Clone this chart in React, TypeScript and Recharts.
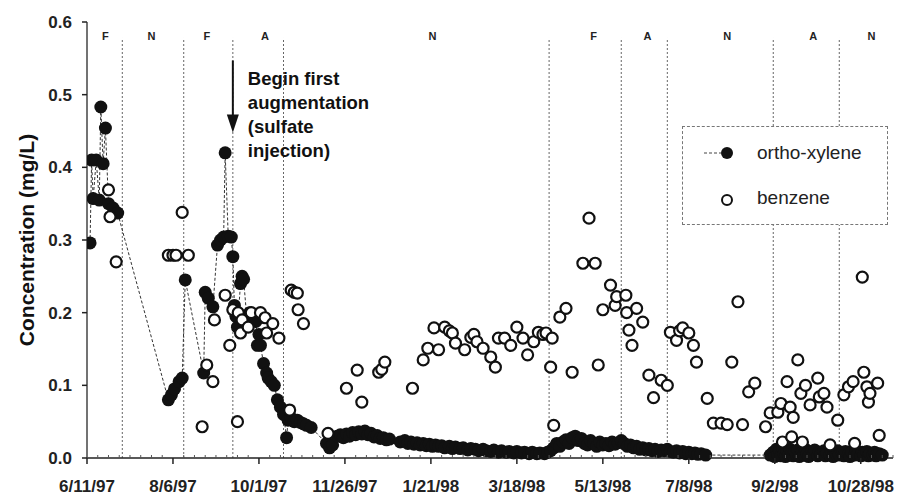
import React from 'react';
import { ScatterChart, Scatter, XAxis, YAxis, ReferenceLine, ReferenceDot, Legend, Label } from 'recharts';

const FONT = '"Liberation Sans", Arial, Helvetica, sans-serif';

// days counted from 6/11/97
const tickDays = [0, 56, 112, 168, 224, 280, 336, 392, 448, 504];
const tickLabels = ['6/11/97', '8/6/97', '10/1/97', '11/26/97', '1/21/98', '3/18/98', '5/13/98', '7/8/98', '9/2/98', '10/28/98'];
const weekTicks = Array.from({ length: 76 }, (_, i) => i * 7);
const yTicks = [0, 0.1, 0.2, 0.3, 0.4, 0.5, 0.6];

const phaseBounds = [23, 63, 95, 128, 301, 348, 378, 447, 490];
const phaseNames = ['F', 'N', 'F', 'A', 'N', 'F', 'A', 'N', 'A', 'N'];
const phaseMidDays = [12, 42, 78, 116, 225, 330, 365, 417, 473, 511];

const annotationLines = ['Begin first', 'augmentation', '(sulfate', 'injection)'];
const augmentationDay = 95;

const xyleneDays = [
  2, 3, 4, 6, 8, 9, 10.5, 12, 14, 17, 20,
  53, 55, 57, 60, 62, 64,
  76, 77, 79, 82, 85, 87, 89, 90, 92, 94, 95, 96, 97, 98, 100, 101, 102, 104, 106, 108, 110, 111, 112, 113, 115, 117, 118, 120, 122, 124, 126,
  128, 130, 131, 133, 135, 137, 139, 141, 143, 146,
  156, 158, 160, 163, 165, 167, 169, 171, 173, 175, 177, 179, 181, 183, 185, 187, 189, 191, 193, 195, 197,
  204, 207, 209, 211, 213, 215, 217, 219, 221, 223, 225, 227, 229, 231, 233, 236, 238, 240, 243, 245, 248, 250, 253, 255, 258, 260, 263, 265, 268, 270, 273, 275, 278, 280, 283, 285, 288, 290, 293, 295, 298,
  300, 302, 304, 306, 308, 310, 312, 314, 316, 318, 320, 322, 324, 326, 328, 330, 332, 334, 336, 338, 340, 342, 344, 346, 348, 350, 352, 354, 356, 358, 360, 362, 364, 366, 368, 370, 372, 374, 376, 378, 380, 382, 384, 386, 388, 390, 392, 394, 396, 398, 400, 403,
  445, 447, 448, 449, 450, 451, 452, 453, 454, 455, 456, 457, 458, 459, 460, 461, 462, 463, 464, 466, 467, 468, 469, 470, 472, 473, 474, 476, 477, 478, 480, 481, 482, 484, 485, 486, 488, 489, 490, 492, 493, 494, 496, 497, 498, 500, 501, 502, 504, 505, 506, 508, 509, 510, 512, 513, 514, 516, 518,
];
const xyleneValues = [
  0.296, 0.41, 0.357, 0.41, 0.355, 0.483, 0.405, 0.454, 0.35, 0.344, 0.337,
  0.08, 0.087, 0.095, 0.105, 0.11, 0.245,
  0.117, 0.228, 0.22, 0.208, 0.293, 0.3, 0.304, 0.42, 0.305, 0.304, 0.277, 0.21, 0.195, 0.18, 0.24, 0.25, 0.246, 0.195, 0.2, 0.19, 0.188, 0.155, 0.17, 0.155, 0.13, 0.117, 0.11, 0.105, 0.1, 0.08, 0.07,
  0.06, 0.028, 0.052, 0.055, 0.05, 0.052, 0.049, 0.047, 0.045, 0.042,
  0.02, 0.014, 0.018, 0.03, 0.032, 0.028, 0.033, 0.03, 0.035, 0.032, 0.036, 0.033, 0.037, 0.032, 0.034, 0.029, 0.031, 0.027, 0.028, 0.025, 0.026,
  0.022, 0.024, 0.02, 0.022, 0.019, 0.021, 0.018, 0.02, 0.017, 0.019, 0.016, 0.018, 0.016, 0.017, 0.014, 0.016, 0.013, 0.015, 0.013, 0.014, 0.011, 0.013, 0.012, 0.01, 0.012, 0.01, 0.009, 0.011, 0.008, 0.01, 0.008, 0.009, 0.007, 0.009, 0.007, 0.008, 0.006, 0.008, 0.006, 0.007, 0.006,
  0.008, 0.01, 0.014, 0.02, 0.016, 0.022, 0.025, 0.02, 0.028, 0.03, 0.024, 0.027, 0.02, 0.018, 0.024, 0.02, 0.016, 0.022, 0.018, 0.02, 0.017, 0.022, 0.019, 0.021, 0.024, 0.02, 0.016, 0.018, 0.014, 0.016, 0.012, 0.014, 0.011, 0.013, 0.01, 0.012, 0.009, 0.011, 0.01, 0.012, 0.009, 0.008, 0.01, 0.007, 0.009, 0.006, 0.008, 0.006, 0.007, 0.005, 0.006, 0.004,
  0.004, 0.008, 0.002, 0.012, 0.005, 0.01, 0.003, 0.014, 0.006, 0.002, 0.01, 0.004, 0.012, 0.006, 0.003, 0.009, 0.005, 0.011, 0.002, 0.008, 0.004, 0.012, 0.006, 0.002, 0.009, 0.005, 0.011, 0.003, 0.008, 0.005, 0.01, 0.003, 0.007, 0.004, 0.009, 0.002, 0.006, 0.01, 0.004, 0.007, 0.003, 0.009, 0.005, 0.002, 0.008, 0.004, 0.01, 0.005, 0.003, 0.008, 0.004, 0.009, 0.003, 0.006, 0.004, 0.008, 0.003, 0.006, 0.004,
];

const benzeneDays = [
  14, 15, 19, 53, 56, 58, 62, 66, 75, 78, 82, 83, 90, 93, 95, 98, 98.5, 100, 101, 105, 107, 113, 116, 117, 121, 125,
  132, 133, 135, 137, 137.5, 141, 157, 169, 176, 179, 190, 192, 194,
  212, 219, 222, 226, 229, 233, 236, 238, 240, 246, 250, 252, 254, 258, 263, 266, 268, 272, 276, 280, 284, 287, 291, 294, 297, 299, 302, 303, 304,
  308, 312, 316, 323, 327, 331, 333, 336, 341, 344, 345, 351, 351.5, 353, 355, 358, 362, 366, 369, 374, 378, 380, 384, 386, 388, 392, 395, 397,
  404, 408, 413, 417, 420, 424, 427, 431, 435, 442, 445, 450, 452, 453, 456, 458, 459, 460, 463, 465, 466, 468, 471, 476, 477, 480, 482, 484, 489,
  493, 496, 499, 500, 505, 506, 508, 509, 510, 515, 516,
];
const benzeneValues = [
  0.369, 0.332, 0.27, 0.279, 0.279, 0.279, 0.338, 0.279, 0.043, 0.128, 0.105, 0.19, 0.224, 0.155, 0.204, 0.05, 0.2, 0.172, 0.19, 0.18, 0.2, 0.2, 0.193, 0.172, 0.185, 0.165,
  0.066, 0.231, 0.228, 0.227, 0.204, 0.185, 0.034, 0.096, 0.121, 0.077, 0.118, 0.122, 0.132,
  0.096, 0.135, 0.151, 0.179, 0.149, 0.18, 0.175, 0.172, 0.158, 0.149, 0.166, 0.17, 0.16, 0.151, 0.139, 0.125, 0.165, 0.165, 0.155, 0.18, 0.165, 0.142, 0.16, 0.173, 0.17, 0.172, 0.125, 0.165, 0.045,
  0.194, 0.206, 0.118, 0.268, 0.33, 0.268, 0.128, 0.204, 0.238, 0.21, 0.222, 0.224, 0.2, 0.176, 0.155, 0.206, 0.187, 0.114, 0.083, 0.107, 0.1, 0.173, 0.162, 0.175, 0.179, 0.172, 0.155, 0.132,
  0.082, 0.048, 0.048, 0.046, 0.132, 0.215, 0.046, 0.091, 0.103, 0.043, 0.062, 0.063, 0.075, 0.022, 0.105, 0.07, 0.029, 0.056, 0.135, 0.089, 0.022, 0.1, 0.073, 0.11, 0.084, 0.089, 0.07, 0.018, 0.052,
  0.087, 0.098, 0.105, 0.02, 0.249, 0.118, 0.098, 0.077, 0.089, 0.103, 0.031,
];

const xylene = xyleneDays.map((day, i) => ({ day, value: xyleneValues[i] }));
const benzene = benzeneDays.map((day, i) => ({ day, value: benzeneValues[i] }));

const XTick = (props: any) => {
  const { x, y, payload } = props;
  const idx = tickDays.indexOf(payload.value);
  if (idx < 0) {
    return <line x1={x} y1={y} x2={x} y2={y - 3} stroke="#555" strokeWidth={1} />;
  }
  return (
    <g>
      <line x1={x} y1={y} x2={x} y2={y + 6} stroke="#222" strokeWidth={1.5} />
      <text x={x} y={y + 34} textAnchor="middle" fontSize={17} fontWeight={700} fill="#222" fontFamily={FONT}>
        {tickLabels[idx]}
      </text>
    </g>
  );
};

const AugmentArrow = (p: any) => {
  const { x1, y1, x2, y2 } = p;
  return (
    <g>
      <line x1={x1} y1={y1} x2={x2} y2={y2 - 14} stroke="#111" strokeWidth={2} />
      <polygon points={`${x2 - 6},${y2 - 18} ${x2 + 6},${y2 - 18} ${x2},${y2}`} fill="#111" />
      <text fontSize={18.5} fontWeight={700} fill="#111" fontFamily={FONT}>
        {annotationLines.map((t, i) => (
          <tspan key={t} x={x1 + 15} y={y1 + 24 + i * 24}>{t}</tspan>
        ))}
      </text>
    </g>
  );
};

const LegendBox = () => (
  <div style={{ width: 206, height: 99, boxSizing: 'border-box', border: '1px dashed #777', background: '#fff' }}>
    <svg width={204} height={97} style={{ display: 'block' }}>
      <line x1={21} y1={26} x2={38} y2={26} stroke="#444" strokeDasharray="3 2" />
      <circle cx={44} cy={26} r={6} fill="#111" />
      <circle cx={44} cy={73} r={5} fill="#fff" stroke="#111" strokeWidth={2} />
      <text x={74} y={32} fontSize={19} fill="#222" fontFamily={FONT}>ortho-xylene</text>
      <text x={74} y={77} fontSize={19} fill="#222" fontFamily={FONT}>benzene</text>
    </svg>
  </div>
);

export default function App() {
  return (
    <div style={{ position: 'absolute', left: 0, top: 0, width: 898, height: 496, background: '#fff' }}>
      <ScatterChart width={898} height={496} margin={{ top: 22, right: 5, bottom: 0, left: 0 }} style={{ fontFamily: FONT }}>
        <XAxis
          type="number"
          dataKey="day"
          domain={[0, 525]}
          ticks={weekTicks}
          interval={0}
          height={38}
          tickSize={0}
          tickMargin={0}
          tickLine={false}
          tick={<XTick />}
          axisLine={{ stroke: '#222', strokeWidth: 1.5 }}
          allowDataOverflow
        />
        <YAxis
          type="number"
          dataKey="value"
          domain={[0, 0.6]}
          ticks={yTicks}
          width={87}
          tickSize={5}
          tickMargin={10}
          tickFormatter={(v: number) => v.toFixed(1)}
          tick={{ fontSize: 17, fontWeight: 700, fill: '#222' }}
          tickLine={{ stroke: '#222', strokeWidth: 1.5 }}
          axisLine={{ stroke: '#444', strokeWidth: 1.5 }}
        >
          <Label
            content={(p: any) => {
              const vb = p.viewBox;
              const cx = vb.x + 26;
              const cy = vb.y + vb.height / 2;
              return (
                <text x={cx} y={cy} transform={`rotate(-90 ${cx} ${cy})`} textAnchor="middle" dominantBaseline="central" fontSize={21} fontWeight={700} fill="#111" fontFamily={FONT}>
                  Concentration (mg/L)
                </text>
              );
            }}
          />
        </YAxis>
        {phaseBounds.map((d) => (
          <ReferenceLine key={d} segment={[{ x: d, y: 0 }, { x: d, y: 0.578 }]} stroke="#666" strokeDasharray="2 2" strokeWidth={1} />
        ))}
        {phaseNames.map((n, i) => (
          <ReferenceDot
            key={i}
            x={phaseMidDays[i]}
            y={0.5807}
            r={0}
            fill="none"
            stroke="none"
            label={{ value: n, position: 'center', fontSize: 11, fontWeight: 700, fill: '#222' }}
          />
        ))}
        <Scatter
          name="ortho-xylene"
          data={xylene}
          isAnimationActive={false}
          line={{ stroke: '#333', strokeWidth: 1, strokeDasharray: '3 2' }}
          lineType="joint"
          shape={(p: any) => <circle cx={p.cx} cy={p.cy} r={6.5} fill="#111" />}
        />
        <Scatter
          name="benzene"
          data={benzene}
          isAnimationActive={false}
          shape={(p: any) => <circle cx={p.cx} cy={p.cy} r={5.5} fill="#fff" stroke="#111" strokeWidth={2.2} />}
        />
        <ReferenceLine
          segment={[{ x: augmentationDay, y: 0.547 }, { x: augmentationDay, y: 0.448 }]}
          shape={<AugmentArrow />}
        />
        <Legend
          layout="vertical"
          align="center"
          verticalAlign="middle"
          content={<LegendBox />}
          wrapperStyle={{ left: 682, top: 126, width: 206, height: 99 }}
        />
      </ScatterChart>
    </div>
  );
}
